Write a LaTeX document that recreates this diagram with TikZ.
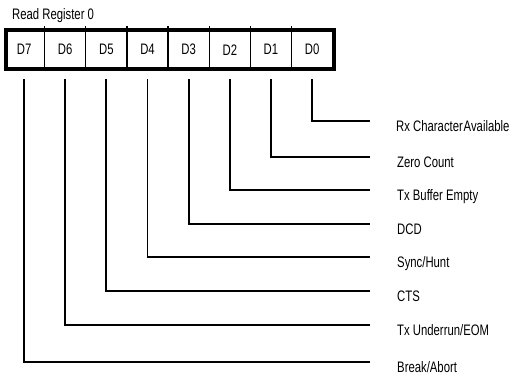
\documentclass[tikz,border=0pt]{standalone}
\usepackage{fontspec}
\setmainfont{Liberation Sans}[FakeStretch=0.745]
\begin{document}
\begin{tikzpicture}[x=1pt,y=-1pt,
  cell/.style={minimum width=40.75pt,minimum height=39pt,inner sep=0pt,anchor=north west,font=\fontsize{15.2}{17}\selectfont},
  lab/.style={anchor=base west,inner sep=0pt,font=\fontsize{15.2}{17}\selectfont},
  wire/.style={line width=1.8pt},
  divider/.style={line width=1.3pt},
  frame/.style={line width=4pt}]
\useasboundingbox (0,0) rectangle (511,374);
\node[lab] (title) at (12,20) {Read Register 0};
% cells
\node[cell] (d7) at (3.5,30) {D7};
\node[cell] (d6) at (d7.north east) {D6};
\node[cell] (d5) at (d6.north east) {D5};
\node[cell] (d4) at (d5.north east) {D4};
\node[cell] (d3) at (d4.north east) {D3};
\node[cell] (d2) at (d3.north east) {D2};
\node[cell] (d1) at (d2.north east) {D1};
\node[cell] (d0) at (d1.north east) {D0};
\foreach \c in {d7,d6,d5,d4,d3,d2,d1}
  \draw[divider] ([yshift=4pt]\c.north east) -- (\c.south east);
\draw[frame] ([xshift=2pt]d7.north west) rectangle ([xshift=1.5pt]d0.south east);
% line ends
\coordinate (e0) at (370,121);
\coordinate (e1) at (370,157);
\coordinate (e2) at (370,190);
\coordinate (e3) at (370,224);
\coordinate (e4) at (370,257.3);
\coordinate (e5) at (370,290.7);
\coordinate (e6) at (370,325);
\coordinate (e7) at (370,361.7);
% labels
\node[lab] (l0) at ([xshift=26pt,yshift=-10.5pt]e0) {Rx Character\hspace{0.8pt}Available};
\node[lab] (l1) at ([xshift=27pt,yshift=-10.5pt]e1) {Zero Count};
\node[lab] (l2) at ([xshift=27pt,yshift=-10.5pt]e2) {Tx Buffer Empty};
\node[lab] (l3) at ([xshift=27pt,yshift=-10.5pt]e3) {DCD};
\node[lab] (l4) at ([xshift=27pt,yshift=-10.5pt]e4) {Sync/Hunt};
\node[lab] (l5) at ([xshift=27pt,yshift=-10.5pt]e5) {CTS};
\node[lab] (l6) at ([xshift=27pt,yshift=-10.5pt]e6) {Tx Underrun/EOM};
\node[lab] (l7) at ([xshift=27pt,yshift=-10.5pt]e7) {Break/Abort};
% wires
\foreach \i in {0,...,7}
  \draw[wire] ([yshift=-10pt]d\i.south) |- (e\i);
\end{tikzpicture}
\end{document}
